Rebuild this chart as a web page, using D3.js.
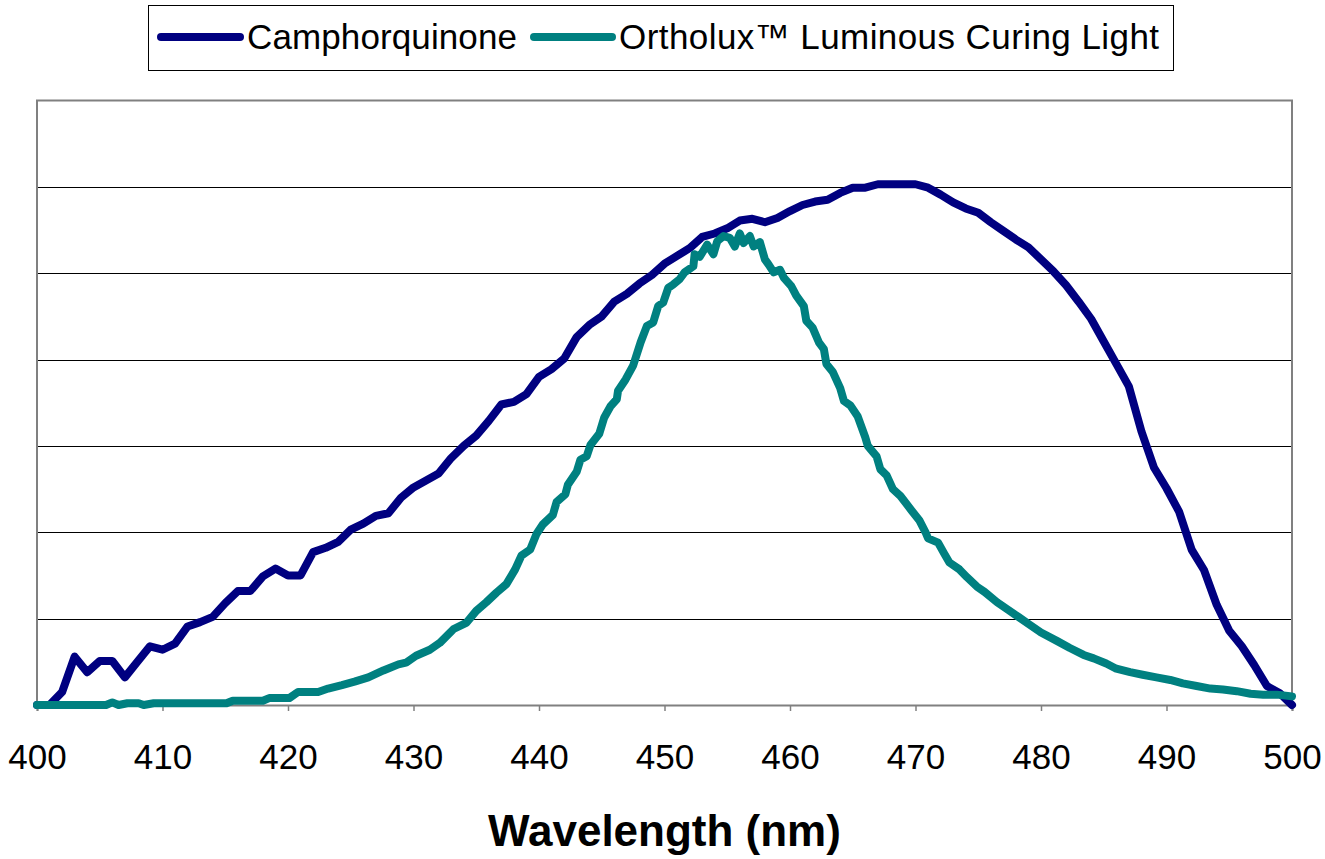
<!DOCTYPE html>
<html>
<head>
<meta charset="utf-8">
<script src="https://cdn.jsdelivr.net/npm/d3@7"></script>
<style>
  html, body { margin: 0; padding: 0; background: #ffffff; }
  svg { display: block; }
  text { font-family: "Liberation Sans", Arial, Helvetica, sans-serif; }
</style>
</head>
<body>
<div id="chart"></div>
<script>
// ---------------- data ----------------
const seriesNames = ["Camphorquinone", "Ortholux\u2122 Luminous Curing Light"];
const seriesColors = ["#000080", "#008080"];
const xTicks = [400, 410, 420, 430, 440, 450, 460, 470, 480, 490, 500];
const xTitle = "Wavelength (nm)";

// Camphorquinone absorption, 1 nm steps from 400 nm
const cqStart = 400;
const cqValues = [
  0, 0, 0.15, 0.56, 0.38, 0.51, 0.51, 0.32, 0.50, 0.68,
  0.64, 0.71, 0.91, 0.96, 1.02, 1.18, 1.32, 1.32, 1.49, 1.58,
  1.50, 1.50, 1.77, 1.82, 1.89, 2.03, 2.10, 2.19, 2.22, 2.40,
  2.52, 2.60, 2.68, 2.86, 3.00, 3.12, 3.29, 3.48, 3.51, 3.60,
  3.80, 3.89, 4.01, 4.26, 4.40, 4.50, 4.67, 4.76, 4.88, 4.98,
  5.11, 5.20, 5.29, 5.42, 5.46, 5.52, 5.61, 5.63, 5.59, 5.64,
  5.72, 5.79, 5.83, 5.85, 5.93, 5.99, 5.99, 6.03, 6.03, 6.03,
  6.03, 5.99, 5.91, 5.82, 5.75, 5.70, 5.59, 5.49, 5.39, 5.30,
  5.16, 5.02, 4.86, 4.67, 4.47, 4.21, 3.95, 3.69, 3.17, 2.75,
  2.51, 2.24, 1.80, 1.56, 1.16, 0.86, 0.68, 0.46, 0.22, 0.14,
  0
];

// Ortholux emission, [wavelength, value]
const lightPoints = [
  [400,0],[405.5,0],[406,0.03],[406.5,0],[407.2,0.02],[408.1,0.02],[408.5,0],
  [409.3,0.02],[415.1,0.02],[415.6,0.05],[418,0.05],[418.5,0.08],[420.1,0.08],
  [420.8,0.15],[422.4,0.15],[423.2,0.19],[424.3,0.23],[425.3,0.27],[426.4,0.32],
  [427.6,0.40],[428.8,0.47],[429.4,0.49],[430.2,0.57],[431.3,0.64],[432.1,0.72],
  [433.2,0.88],[434.2,0.95],[435,1.09],[435.8,1.19],[436.6,1.30],[437.4,1.40],
  [438.1,1.57],[438.6,1.73],[439.3,1.80],[439.8,1.98],[440.3,2.09],[441.1,2.20],
  [441.4,2.35],[442.1,2.44],[442.3,2.55],[443.0,2.70],[443.3,2.84],[443.8,2.88],
  [444.1,3.01],[444.8,3.14],[445.2,3.33],[445.7,3.46],[446.2,3.54],[446.3,3.64],
  [446.9,3.77],[447.5,3.93],[448.1,4.20],[448.6,4.39],[449.1,4.43],[449.5,4.62],
  [449.9,4.66],[450.3,4.83],[450.7,4.87],[451.2,4.93],[451.6,5.01],[452.3,5.08],
  [452.4,5.22],[452.8,5.19],[453.4,5.33],[453.9,5.22],[454.2,5.37],[454.7,5.43],
  [455.2,5.41],[455.6,5.31],[456.0,5.46],[456.3,5.35],[456.8,5.43],[457.1,5.31],
  [457.6,5.36],[458.0,5.16],[458.3,5.10],[458.7,5.01],[459.2,5.04],[459.5,4.95],
  [460.1,4.85],[460.5,4.74],[461.1,4.62],[461.3,4.45],[461.8,4.37],[462.3,4.20],
  [462.7,4.12],[462.9,3.95],[463.4,3.86],[464.0,3.67],[464.3,3.52],[464.8,3.47],
  [465.4,3.34],[466.0,3.10],[466.2,3.00],[466.9,2.88],[467.2,2.73],[467.7,2.66],
  [468.2,2.50],[468.8,2.42],[469.7,2.25],[470.3,2.14],[470.8,2.00],[471.0,1.93],
  [471.8,1.88],[472.3,1.75],[472.7,1.65],[473.5,1.57],[474.1,1.48],[474.9,1.37],
  [475.5,1.31],[476.5,1.19],[477.4,1.10],[478.2,1.02],[479.1,0.93],[480.0,0.84],
  [481.3,0.74],[482.3,0.66],[483.4,0.58],[484.2,0.54],[485.2,0.48],[486.0,0.42],
  [487.1,0.38],[488.1,0.35],[489.2,0.32],[490.3,0.29],[491.3,0.25],[492.4,0.22],
  [493.5,0.19],[494.5,0.18],[495.6,0.16],[496.7,0.13],[497.7,0.12],[498.8,0.12],
  [500,0.10]
];
const yGridValues = [1, 2, 3, 4, 5, 6];
const yMax = 7;

// ---------------- layout ----------------
const W = 1325, H = 859;
const plot = { left: 37, right: 1292, top: 100.5, bottom: 705 };

const svg = d3.select("#chart").append("svg")
  .attr("width", W).attr("height", H);

const x = d3.scaleLinear().domain([400, 500]).range([plot.left, plot.right]);
const y = d3.scaleLinear().domain([0, yMax]).range([plot.bottom, plot.top]);

// gridlines
svg.append("g").selectAll("line").data(yGridValues).join("line")
  .attr("x1", plot.left).attr("x2", plot.right)
  .attr("y1", d => Math.round(y(d)) + 0.5).attr("y2", d => Math.round(y(d)) + 0.5)
  .attr("stroke", "#000").attr("stroke-width", 1);

// plot frame (top, right, left)
svg.append("path")
  .attr("d", `M${plot.left},${plot.bottom} V${plot.top} H${plot.right} V${plot.bottom}`)
  .attr("fill", "none").attr("stroke", "#808080").attr("stroke-width", 2);

// x axis
const xAxis = d3.axisBottom(x).tickValues(xTicks).tickSize(6).tickPadding(30)
  .tickFormat(d3.format("d"));
const gx = svg.append("g").attr("transform", `translate(0,${plot.bottom})`).call(xAxis);
gx.select(".domain").attr("stroke", "#808080").attr("stroke-width", 2);
gx.selectAll(".tick line").attr("stroke", "#808080").attr("stroke-width", 1.5);
gx.selectAll(".tick text")
  .attr("font-size", 35).attr("fill", "#000")
  .attr("font-family", "'Liberation Sans', Arial, sans-serif")
  .attr("dy", 0).attr("y", 64);

// x title
svg.append("text")
  .attr("x", (plot.left + plot.right) / 2).attr("y", 846)
  .attr("text-anchor", "middle")
  .attr("font-size", 44).attr("font-weight", "bold")
  .text(xTitle);

// lines
const cqData = cqValues.map((v, i) => [cqStart + i, v]);
const line = d3.line().x(d => x(d[0])).y(d => y(d[1]));
const allSeries = [cqData, lightPoints];
svg.append("g").selectAll("path").data(allSeries).join("path")
  .attr("d", line)
  .attr("fill", "none")
  .attr("stroke", (d, i) => seriesColors[i])
  .attr("stroke-width", 8)
  .attr("stroke-linejoin", "round")
  .attr("stroke-linecap", "round");

// legend
const legend = svg.append("g");
legend.append("rect")
  .attr("x", 148.5).attr("y", 5.5).attr("width", 1025).attr("height", 65)
  .attr("fill", "#fff").attr("stroke", "#000").attr("stroke-width", 1);
const legendItems = [
  { x1: 161, x2: 240, tx: 247, len: 270 },
  { x1: 534, x2: 612, tx: 619, len: 540 }
];
legendItems.forEach((it, i) => {
  legend.append("line")
    .attr("x1", it.x1).attr("x2", it.x2).attr("y1", 37).attr("y2", 37)
    .attr("stroke", seriesColors[i]).attr("stroke-width", 8)
    .attr("stroke-linecap", "round");
  legend.append("text")
    .attr("x", it.tx).attr("y", 49)
    .attr("font-size", 35).attr("fill", "#000")
    .attr("textLength", it.len).attr("lengthAdjust", "spacing")
    .text(seriesNames[i]);
});
</script>
</body>
</html>
